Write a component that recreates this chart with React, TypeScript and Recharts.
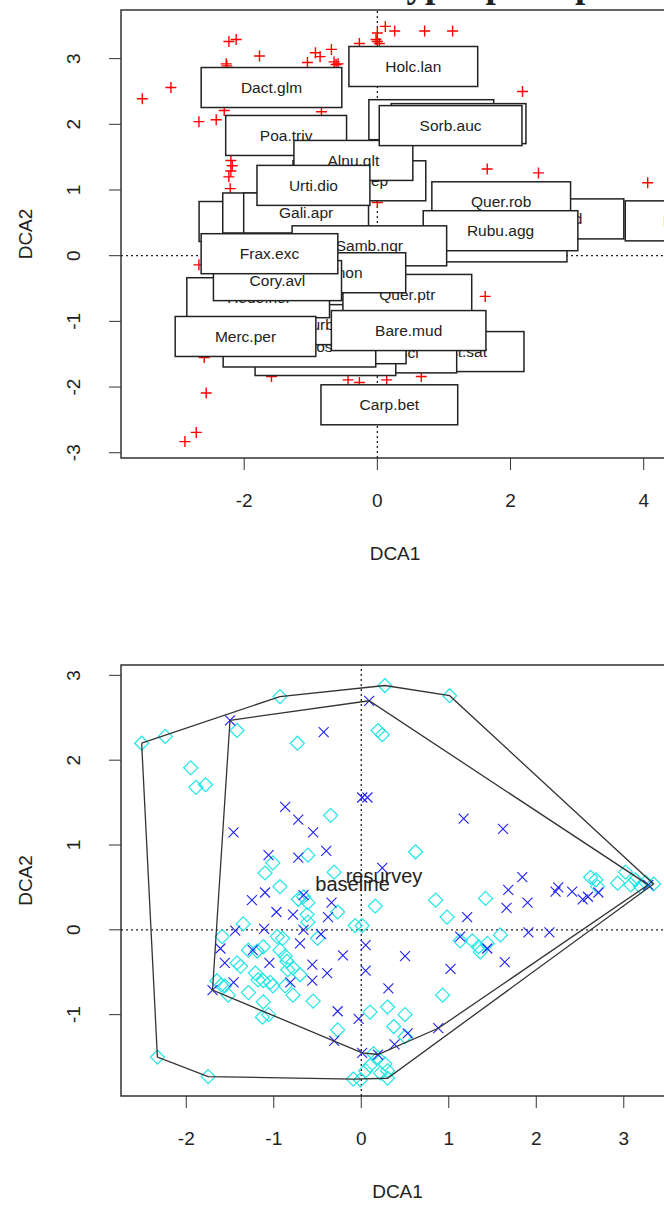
import { ScatterChart, Scatter, XAxis, YAxis, ReferenceArea } from 'recharts';

// ---- top panel: species scores + labelled boxes ----
const topXTicks = [-2, 0, 2, 4];
const topYTicks = [-3, -2, -1, 0, 1, 2, 3];
const topXDomain: [number, number] = [-3.85, 4.38];
const topYDomain: [number, number] = [-3.08, 3.74];

const speciesPts: [number, number][] = [
  [-3.53, 2.39], [-3.1, 2.56], [-2.23, 3.26], [-2.12, 3.29], [-1.77, 3.04],
  [-2.27, 2.92], [-2.26, 2.89], [-0.93, 3.09], [-0.86, 3.03], [-0.69, 3.14],
  [-1.05, 2.94], [-0.65, 2.95], [-0.62, 2.91], [-0.59, 2.92], [-2.68, 2.04],
  [-2.42, 2.07], [-2.3, 2.21], [-0.84, 2.19], [-2.2, 1.45], [-2.18, 1.37],
  [-2.2, 1.29], [-2.23, 1.2], [-2.21, 1.02], [0.0, 0.81], [0.12, 3.49],
  [0.0, 3.39], [-0.02, 3.29], [0.0, 3.26], [0.03, 3.23], [0.26, 3.42],
  [0.71, 3.42], [1.13, 3.42], [-0.27, 3.23], [2.18, 2.5], [1.65, 1.32],
  [2.42, 1.26], [4.06, 1.11], [1.62, -0.62], [-2.68, -0.14], [-2.6, -1.55],
  [-2.57, -2.09], [-2.72, -2.69], [-2.89, -2.83], [-0.44, -1.89], [0.14, -1.89],
  [-0.27, -1.93], [0.66, -1.84], [-1.59, -1.84],
];

// drawn in this order, back to front
const boxNames = [
  'Cast.sat', 'Hyac.sci', 'Oxal.ace', 'Lysi.nem', 'Tamu.cos', 'Geum.urb', 'Hede.hel',
  'Quer.ptr', 'Merc.per', 'Bare.mud', 'Carp.bet', 'Pter.aqu', 'Care.pnd', 'Dryo.dil',
  'Quer.rob', 'Rubu.agg', 'Ajug.rep', 'Stac.syl', 'Ranu.fic', 'Gali.apr', 'Samb.ngr',
  'Vero.mon', 'Cory.avl', 'Frax.exc', 'Poa.triv', 'Alnu.glt', 'Urti.dio', 'Ilex.aqu',
  'Fagu.syl', 'Sorb.auc', 'Dact.glm', 'Holc.lan',
];
const boxPos: [number, number][] = [
  [1.22, -1.46], [0.18, -1.48], [-0.78, -1.52], [-0.63, -1.34], [-1.17, -1.39], [-1.17, -1.05], [-1.79, -0.64],
  [0.45, -0.59], [-1.98, -1.23], [0.47, -1.14], [0.18, -2.27], [4.72, 0.53], [2.6, 0.56], [1.94, 0.21],
  [1.86, 0.82], [1.85, 0.38], [-0.27, 1.14], [-1.74, 0.52], [-1.34, 0.65], [-1.07, 0.65], [-0.12, 0.15],
  [-0.72, -0.26], [-1.5, -0.38], [-1.62, 0.03], [-1.37, 1.83], [-0.36, 1.45], [-0.96, 1.07], [0.81, 2.07],
  [1.22, 2.01], [1.1, 1.98], [-1.59, 2.56], [0.54, 2.88],
];

// ---- bottom panel: sites by survey ----
const botXTicks = [-2, -1, 0, 1, 2, 3];
const botYTicks = [-1, 0, 1, 2, 3];
const botXDomain: [number, number] = [-2.746, 3.574];
const botYDomain: [number, number] = [-1.959, 3.122];

const baselineSites: [number, number][] = [
  [-2.51, 2.2], [-2.24, 2.28], [-0.93, 2.75], [0.27, 2.88], [1.01, 2.76], [-1.42, 2.35], [-0.73, 2.2],
  [0.19, 2.35], [0.24, 2.3], [-1.95, 1.91], [-1.89, 1.68], [-1.78, 1.71], [-0.35, 1.35], [-0.61, 0.88],
  [-1.01, 0.79], [-1.1, 0.67], [-0.93, 0.51], [-0.72, 0.36], [-0.31, 0.68], [-0.66, 0.39], [-0.61, 0.32],
  [0.16, 0.28], [-0.27, 0.21], [0.85, 0.35], [-1.35, 0.07], [-0.96, -0.08], [-0.9, -0.1], [-0.62, 0.18],
  [-0.61, 0.09], [-0.5, -0.1], [-0.07, 0.05], [0.01, 0.05], [-1.59, -0.08], [-1.29, -0.24], [-1.19, -0.25],
  [-1.12, -0.2], [-0.93, -0.24], [-0.87, -0.31], [-0.85, -0.37], [-1.42, -0.39], [-1.38, -0.43],
  [-0.84, -0.47], [-0.78, -0.45], [-0.7, -0.53], [-1.21, -0.51], [-1.18, -0.59], [-1.12, -0.6],
  [-1.04, -0.62], [-1.01, -0.66], [-1.65, -0.6], [-1.6, -0.65], [-1.56, -0.66], [-0.87, -0.66],
  [-1.29, -0.74], [-1.52, -0.77], [-0.78, -0.77], [-0.55, -0.84], [-1.12, -0.85], [-1.13, -1.03],
  [-1.06, -1.0], [0.1, -0.97], [0.3, -0.91], [0.5, -1.0], [0.93, -0.77], [-0.27, -1.18], [0.37, -1.14],
  [0.5, -1.26], [-2.33, -1.5], [-1.75, -1.73], [0.05, -1.66], [0.14, -1.46], [0.19, -1.51], [0.27, -1.58],
  [0.3, -1.66], [0.22, -1.69], [-0.01, -1.77], [0.1, -1.6], [0.62, 0.92], [1.42, 0.37], [0.98, 0.15],
  [1.59, -0.06], [1.13, -0.13], [1.27, -0.13], [1.34, -0.2], [1.44, -0.16], [1.36, -0.26], [2.62, 0.62],
  [2.68, 0.59], [2.7, 0.51], [2.93, 0.55], [3.02, 0.68], [3.08, 0.53], [3.13, 0.59], [3.19, 0.51],
  [3.25, 0.56], [3.34, 0.54], [0.3, -1.75], [-0.09, -1.76],
];
const resurveySites: [number, number][] = [
  [0.09, 2.7], [-1.5, 2.47], [-0.43, 2.33], [-1.46, 1.15], [-0.87, 1.45], [-0.72, 1.3], [-0.55, 1.15],
  [-0.4, 0.93], [-1.06, 0.88], [-0.72, 0.85], [0.01, 1.56], [0.07, 1.56], [-1.1, 0.44], [-1.25, 0.35],
  [-0.66, 0.41], [-0.97, 0.21], [-0.78, 0.18], [-0.34, 0.32], [-0.38, 0.15], [-1.44, -0.01], [-1.11, 0.01],
  [-0.66, 0.0], [-0.46, -0.05], [-1.61, -0.22], [-1.24, -0.24], [-0.7, -0.16], [0.05, -0.18], [-0.21, -0.3],
  [-1.56, -0.39], [-1.05, -0.39], [-0.56, -0.41], [-0.39, -0.51], [-0.56, -0.6], [0.05, -0.48],
  [-1.46, -0.62], [-0.81, -0.62], [-1.7, -0.71], [-0.27, -0.96], [-0.03, -1.05], [-0.31, -1.31],
  [0.01, -1.45], [1.17, 1.31], [1.62, 1.19], [0.24, 0.73], [1.84, 0.62], [1.68, 0.47], [1.9, 0.32],
  [1.66, 0.26], [1.21, 0.15], [2.22, 0.45], [2.25, 0.5], [2.41, 0.45], [2.53, 0.36], [2.59, 0.39],
  [2.71, 0.44], [1.91, -0.03], [2.15, -0.03], [1.13, -0.08], [0.5, -0.31], [1.44, -0.22], [1.64, -0.38],
  [1.02, -0.46], [0.31, -0.69], [0.38, -1.35], [0.53, -1.22], [0.88, -1.16], [3.28, 0.53], [0.19, -1.47],
];
const baselineHull: [number, number][] = [
  [-2.51, 2.2], [-0.93, 2.75], [0.27, 2.88], [1.01, 2.76], [3.34, 0.54], [0.3, -1.75],
  [-0.09, -1.76], [-1.75, -1.73], [-2.33, -1.5], [-2.51, 2.2],
];
const resurveyHull: [number, number][] = [
  [-1.5, 2.47], [0.09, 2.7], [3.28, 0.53], [0.88, -1.16], [0.19, -1.47], [0.01, -1.45],
  [-1.7, -0.71], [-1.5, 2.47],
];
const groupNames = ['resurvey', 'baseline'];
const groupCentres: [number, number][] = [[0.26, 0.64], [-0.1, 0.54]];

const SANS = '"Liberation Sans", Arial, sans-serif';
const INK = '#222';

const pts = (a: [number, number][]) => a.map(([x, y]) => ({ x, y }));

let measureCtx: CanvasRenderingContext2D | null = null;
function textWidth(s: string, font: string) {
  if (!measureCtx) measureCtx = document.createElement('canvas').getContext('2d');
  if (!measureCtx) return s.length * 8;
  measureCtx.font = font;
  return measureCtx.measureText(s).width;
}

const Plus = ({ cx, cy }: any) => (
  <path d={`M${cx - 5.5},${cy}H${cx + 5.5}M${cx},${cy - 5.5}V${cy + 5.5}`} stroke="#ff0000" strokeWidth={1.4} />
);
const Cross = ({ cx, cy }: any) => (
  <path d={`M${cx - 5},${cy - 5}L${cx + 5},${cy + 5}M${cx - 5},${cy + 5}L${cx + 5},${cy - 5}`} stroke="#2020ff" strokeWidth={1.1} />
);
const Diamond = ({ cx, cy }: any) => (
  <path d={`M${cx},${cy - 7}L${cx + 7},${cy}L${cx},${cy + 7}L${cx - 7},${cy}Z`} fill="none" stroke="#20e6e6" strokeWidth={1.2} />
);
const NoDot = () => <g />;

const BOX_FONT = 15.5;
const LabelBox = ({ cx, cy, payload }: any) => {
  const w = textWidth(payload.label, `${BOX_FONT}px "Liberation Sans"`) * 2.3;
  return (
    <g>
      <rect x={cx - w / 2} y={cy - 20} width={w} height={40} fill="#fff" stroke={INK} strokeWidth={1.5} />
      <text x={cx} y={cy + 5.5} textAnchor="middle" fontSize={BOX_FONT} fontFamily={SANS} fill={INK}>
        {payload.label}
      </text>
    </g>
  );
};
const GroupText = ({ cx, cy, payload }: any) => (
  <text x={cx} y={cy + 7} textAnchor="middle" fontSize={20} fontFamily={SANS} fill={INK}>
    {payload.label}
  </text>
);

const XTick = (p: any) => (
  <text x={p.x} y={p.y + 35} textAnchor="middle" fontSize={19} fontFamily={SANS} fill={INK}>
    {p.payload.value}
  </text>
);
const YTick = (p: any) => {
  const x = p.x - 27;
  return (
    <text x={x} y={p.y} transform={`rotate(-90 ${x} ${p.y})`} textAnchor="middle" fontSize={19} fontFamily={SANS} fill={INK}>
      {p.payload.value}
    </text>
  );
};
const XTitle = ({ viewBox, text }: any) => (
  <text x={viewBox.x + viewBox.width / 2} y={viewBox.y + 102} textAnchor="middle" fontSize={19} fontFamily={SANS} fill={INK}>
    {text}
  </text>
);
const YTitle = ({ viewBox, text }: any) => {
  const y = viewBox.y + viewBox.height / 2;
  return (
    <text x={32} y={y} transform={`rotate(-90 32 ${y})`} textAnchor="middle" fontSize={19} fontFamily={SANS} fill={INK}>
      {text}
    </text>
  );
};

const dotted = { stroke: '#222', strokeWidth: 1.3, strokeDasharray: '2 3' };
const hullLine = { stroke: '#333', strokeWidth: 1.3 };

function Axes({ xd, yd, xt, yt }: any) {
  return [
    <XAxis key="x" type="number" dataKey="x" domain={xd} ticks={xt} allowDataOverflow height={120}
      stroke="#333" tickSize={12} axisLine={false} tick={<XTick />} label={<XTitle text="DCA1" />} />,
    <YAxis key="y" type="number" dataKey="y" domain={yd} ticks={yt} allowDataOverflow width={121}
      stroke="#333" tickSize={12} axisLine={false} tick={<YTick />} label={<YTitle text="DCA2" />} />,
  ];
}

function TopPanel() {
  const boxes = boxNames.map((label, i) => ({ x: boxPos[i][0], y: boxPos[i][1], label }));
  return (
    <ScatterChart width={680} height={578} margin={{ top: 10, right: 11, bottom: 0, left: 0 }}>
      {Axes({ xd: topXDomain, yd: topYDomain, xt: topXTicks, yt: topYTicks })}
      <Scatter data={[{ x: topXDomain[0], y: 0 }, { x: topXDomain[1], y: 0 }]} line={dotted} shape={NoDot} isAnimationActive={false} />
      <Scatter data={[{ x: 0, y: topYDomain[0] }, { x: 0, y: topYDomain[1] }]} line={dotted} shape={NoDot} isAnimationActive={false} />
      <Scatter data={pts(speciesPts)} shape={Plus} isAnimationActive={false} />
      <Scatter data={boxes} shape={LabelBox} isAnimationActive={false} />
      <ReferenceArea x1={topXDomain[0]} x2={topXDomain[1]} y1={topYDomain[0]} y2={topYDomain[1]}
        fill="none" stroke="#333" strokeWidth={1.5} ifOverflow="visible" />
    </ScatterChart>
  );
}

function BottomPanel() {
  const groups = groupNames.map((label, i) => ({ x: groupCentres[i][0], y: groupCentres[i][1], label }));
  return (
    <ScatterChart width={684} height={616} margin={{ top: 65, right: 10, bottom: 0, left: 0 }}>
      {Axes({ xd: botXDomain, yd: botYDomain, xt: botXTicks, yt: botYTicks })}
      <Scatter data={[{ x: botXDomain[0], y: 0 }, { x: botXDomain[1], y: 0 }]} line={dotted} shape={NoDot} isAnimationActive={false} />
      <Scatter data={[{ x: 0, y: botYDomain[0] }, { x: 0, y: botYDomain[1] }]} line={dotted} shape={NoDot} isAnimationActive={false} />
      <Scatter data={pts(baselineSites)} shape={Diamond} isAnimationActive={false} />
      <Scatter data={pts(resurveySites)} shape={Cross} isAnimationActive={false} />
      <Scatter data={pts(baselineHull)} line={hullLine} lineType="joint" shape={NoDot} isAnimationActive={false} />
      <Scatter data={pts(resurveyHull)} line={hullLine} lineType="joint" shape={NoDot} isAnimationActive={false} />
      <Scatter data={groups} shape={GroupText} isAnimationActive={false} />
      <ReferenceArea x1={botXDomain[0]} x2={botXDomain[1]} y1={botYDomain[0]} y2={botYDomain[1]}
        fill="none" stroke="#333" strokeWidth={1.5} ifOverflow="visible" />
    </ScatterChart>
  );
}

export default function App() {
  return (
    <div style={{ position: 'absolute', left: 0, top: 0, width: 664, height: 1219, overflow: 'hidden', background: '#fff' }}>
      <svg width={664} height={12} style={{ position: 'absolute', left: 0, top: 0 }}>
        <text x={204} y={-3} fontSize={37} fontWeight="bold" fontFamily='"Liberation Serif", serif' fill={INK}>
          DCA of site types plus species
        </text>
      </svg>
      <div style={{ position: 'absolute', left: 0, top: 0 }}>
        <TopPanel />
      </div>
      <div style={{ position: 'absolute', left: 0, top: 600 }}>
        <BottomPanel />
      </div>
    </div>
  );
}
